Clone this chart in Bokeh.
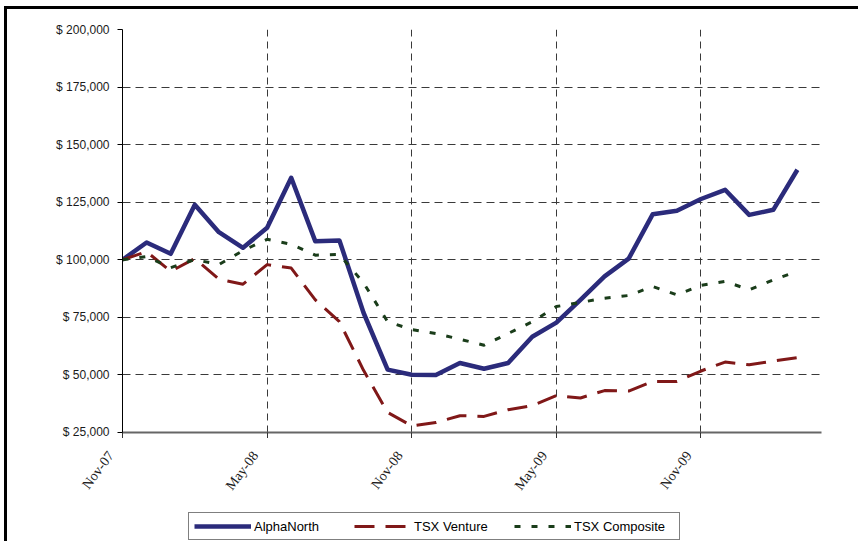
import math
from bokeh.plotting import figure
from bokeh.layouts import column
from bokeh.models import Range1d, FixedTicker, Legend, LegendItem
from bokeh.core.properties import value
from bokeh.embed import file_html
from bokeh.resources import INLINE

months = ["Nov-07", "Dec-07", "Jan-08", "Feb-08", "Mar-08", "Apr-08", "May-08",
          "Jun-08", "Jul-08", "Aug-08", "Sep-08", "Oct-08", "Nov-08", "Dec-08",
          "Jan-09", "Feb-09", "Mar-09", "Apr-09", "May-09", "Jun-09", "Jul-09",
          "Aug-09", "Sep-09", "Oct-09", "Nov-09", "Dec-09", "Jan-10", "Feb-10",
          "Mar-10"]

alphanorth = [100000, 107500, 102600, 123900, 112000, 105200, 113900, 135600,
              108000, 108400, 77000, 52300, 50100, 50000, 55200, 52700, 55200,
              66600, 72700, 82600, 92800, 100500, 119800, 121300, 126400,
              130400, 119500, 121700, 139100]
tsx_venture = [100000, 103500, 95000, 100500, 91600, 89400, 97900, 96400,
               82600, 73100, 52000, 33700, 27900, 29300, 32300, 32000, 34900,
               36700, 41000, 40000, 43200, 43000, 47200, 47200, 51700, 55600,
               54400, 56000, 57500]
tsx_composite = [100000, 101400, 96600, 100100, 97900, 104000, 108900, 106700,
                 102000, 102300, 90000, 73100, 69700, 68000, 65500, 62900,
                 68000, 73100, 79700, 81500, 83300, 84500, 88400, 84800, 88900,
                 90600, 87000, 91300, 95000]

y_ticks = [25000, 50000, 75000, 100000, 125000, 150000, 175000, 200000]
y_tick_labels = ["$ 25,000", "$ 50,000", "$ 75,000", "$ 100,000", "$ 125,000",
                 "$ 150,000", "$ 175,000", "$ 200,000"]
x_tick_idx = [0, 6, 12, 18, 24]

series_names = ["AlphaNorth", "TSX Venture", "TSX Composite"]
colors = ["#2B2B7B", "#801818", "#1A3D1A"]
widths = [4.5, 3, 3]
dashes = ["solid", "20 11", "6 11"]
series = [alphanorth, tsx_venture, tsx_composite]

x = list(range(len(months)))

# geometry (px)
PX_PER_MONTH = 24
LEFT_B, TOP_B, FRAME_W, FRAME_H, BOT_B = 115, 20, 696, 400, 9
W = 854
CONTENT_W = W - 3
P_H = 3 + TOP_B + FRAME_H + BOT_B
Q_H = 103

p = figure(width=W, height=P_H, output_backend="svg", toolbar_location=None,
           x_range=Range1d(0, FRAME_W / PX_PER_MONTH), y_range=Range1d(25000, 200000),
           min_border_left=LEFT_B, min_border_right=CONTENT_W - LEFT_B - FRAME_W,
           min_border_top=TOP_B, min_border_bottom=BOT_B)
p.frame_align = False
p.styles = {"margin-left": "4px", "margin-top": "6px",
            "border-left": "3px solid black", "border-top": "3px solid black"}
p.outline_line_color = None
p.background_fill_color = "white"
p.border_fill_color = "white"

# grid
p.ygrid.ticker = FixedTicker(ticks=y_ticks)
p.xgrid.ticker = FixedTicker(ticks=x_tick_idx)
p.ygrid.grid_line_color = "#3a3a3a"
p.ygrid.grid_line_dash = "8 5"
p.ygrid.grid_line_width = 1
p.xgrid.grid_line_color = "#3a3a3a"
p.xgrid.grid_line_dash = "7 5"
p.xgrid.grid_line_width = 1

# y axis
p.yaxis.ticker = FixedTicker(ticks=y_ticks)
p.yaxis.major_label_overrides = {float(v): s for v, s in zip(y_ticks, y_tick_labels)}
p.yaxis.axis_line_color = "black"
p.yaxis.axis_line_width = 1
p.yaxis.major_tick_out = 5
p.yaxis.major_tick_in = 0
p.yaxis.major_tick_line_color = "black"
p.yaxis.minor_tick_line_color = None
p.yaxis.major_label_standoff = 8
p.yaxis.major_label_text_font = "Liberation Sans"
p.yaxis.major_label_text_font_size = "12px"
p.yaxis.major_label_text_color = "#1a1a1a"

# x axis: line + ticks (labels drawn in strip below)
p.xaxis.ticker = FixedTicker(ticks=[], minor_ticks=x_tick_idx)
p.xaxis.axis_line_color = "#666666"
p.xaxis.axis_line_width = 2
p.xaxis.minor_tick_out = 6
p.xaxis.minor_tick_in = 0
p.xaxis.minor_tick_line_color = "#333333"
p.xaxis.minor_tick_line_width = 1
p.xaxis.major_tick_line_color = None
p.xaxis.major_label_standoff = 0

for vals, c, w, d in zip(series, colors, widths, dashes):
    p.line(x, vals, line_color=c, line_width=w, line_dash=d, line_join="round")

# strip below: month labels + legend, same horizontal scale as the chart
q_left = -(LEFT_B) / PX_PER_MONTH
q = figure(width=W, height=Q_H, output_backend="svg", toolbar_location=None,
           x_range=Range1d(q_left, q_left + CONTENT_W / PX_PER_MONTH),
           y_range=Range1d(0, 1),
           x_axis_type=None, y_axis_type=None,
           min_border_left=0, min_border_right=0, min_border_top=0, min_border_bottom=0)
q.frame_align = False
q.styles = {"margin-left": "4px", "border-left": "3px solid black"}
q.outline_line_color = None
q.background_fill_color = "white"
q.border_fill_color = "white"
q.grid.visible = False

q.text(x=x_tick_idx, y=[1] * len(x_tick_idx), text=[months[i] for i in x_tick_idx],
       angle=math.radians(53), text_align="right", text_baseline="top",
       x_offset=-18, y_offset=10,
       text_font=value("Liberation Serif"), text_font_size="14px",
       text_color="#1a1a1a")

legend_rs = []
for vals, c, w, d in zip(series, colors, widths, dashes):
    legend_rs.append(q.line(x, vals, line_color=c, line_width=w, line_dash=d))

legend = Legend(items=[LegendItem(label=n, renderers=[r]) for n, r in zip(series_names, legend_rs)],
                orientation="horizontal", location=(181, 1),
                label_text_font="Liberation Sans", label_text_font_size="13px",
                label_text_color="black",
                glyph_width=57, glyph_height=16, label_standoff=3,
                label_width=100, spacing=0, padding=5, margin=0,
                border_line_color="black", border_line_width=1,
                background_fill_color="white", background_fill_alpha=1)
q.add_layout(legend)

layout = column(p, q, spacing=0)
open("out.html", "w").write(file_html(layout, INLINE))
